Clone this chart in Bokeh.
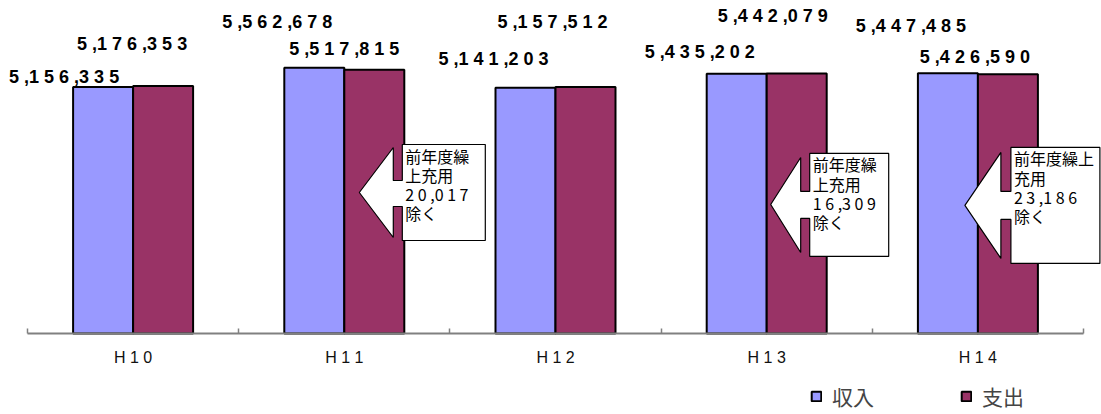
import numpy as np
from bokeh.plotting import figure
from bokeh.models import Range1d, FixedTicker, Legend, LegendItem, ColumnDataSource
from bokeh.core.properties import value
from bokeh.embed import file_html
from bokeh.resources import INLINE

# ---------------- data ----------------
categories = ["H10", "H11", "H12", "H13", "H14"]
income = [5156335, 5562678, 5141203, 5435202, 5447485]
expenditure = [5176353, 5517815, 5157512, 5442079, 5426590]
series_names = ["収入", "支出"]
callout_categories = ["H11", "H13", "H14"]
callout_amounts = [20017, 16309, 23186]
callout_prefix = "前年度繰上充用"
callout_suffix = "除く"

# ---------------- styles / layout ----------------
C_INC = "#9999FF"
C_EXP = "#993366"
W, H = 1101, 414
PX = 211.2                      # px per category
X0 = -27 / PX                   # x range start
PY = 325 / 6.8e6                # px per unit value
Y0 = -(H - 333) / PY
Y1 = 333 / PY
BAR_W = 60 / PX

# label offsets (px) relative to bar top-centre: (dx, up)
inc_lab_off = [(-39, 10), (-37, 46), (-32, 29), (-37, 22), (-37, 47)]
exp_lab_off = [(-31, 42), (-30, 21), (-33, 65), (-24, 57), (-33, 17)]

# callout geometry in px relative to the arrow tip
callout_geo = [
    dict(dx=15, tipv=2.95e6, back=34, ht=45, hb=45, st=12, sb=14, bl=43, br=126, bt=48, bb=48, wrap=4),
    dict(dx=4, tipv=2.70e6, back=30, ht=47, hb=48, st=13, sb=14, bl=39, br=118, bt=51, bb=52, wrap=4),
    dict(dx=-13, tipv=2.68e6, back=36, ht=53, hb=53, st=14, sb=14, bl=46, br=135, bt=58, bb=58, wrap=5),
]


def spaced(n):
    groups = f"{n:,}".split(",")
    return " ,".join(" ".join(g) for g in groups)


p = figure(width=W, height=H, output_backend="svg", toolbar_location=None,
           x_range=Range1d(X0, X0 + W / PX), y_range=Range1d(Y0, Y1),
           min_border_left=0, min_border_right=0, min_border_top=0, min_border_bottom=0)
p.outline_line_color = None
p.grid.visible = False
p.yaxis.visible = False
p.background_fill_color = "white"

n = len(categories)
xc = np.arange(n) + 0.5
src = ColumnDataSource(dict(xi=xc - BAR_W / 2, xe=xc + BAR_W / 2, inc=income, exp=expenditure))
r_inc = p.vbar(x="xi", top="inc", width=BAR_W, source=src, fill_color=C_INC,
               line_color="black", line_width=2)
r_exp = p.vbar(x="xe", top="exp", width=BAR_W, source=src, fill_color=C_EXP,
               line_color="black", line_width=2)

# baseline (category axis line)
p.segment(x0=[0], x1=[n], y0=[0], y1=[0], line_color="#808080", line_width=2)

# value labels
lx, ly, lt = [], [], []
for vals, off, sgn in ((income, inc_lab_off, -1), (expenditure, exp_lab_off, 1)):
    for i, v in enumerate(vals):
        bx = xc[i] + sgn * BAR_W / 2
        lx.append(bx + off[i][0] / PX)
        ly.append(v + off[i][1] / PY)
        lt.append(spaced(v))
p.text(x=lx, y=ly, text=lt, text_align="center", text_baseline="middle",
       text_font=value("Liberation Sans"), text_font_style="bold", text_font_size="18px",
       text_color="black")

# callouts
xs, ys, tx, ty, tt = [], [], [], [], []
for cat, amt, g in zip(callout_categories, callout_amounts, callout_geo):
    i = categories.index(cat)
    tipx = xc[i] + g["dx"] / PX
    tipy = g["tipv"]
    def X(d):
        return tipx + d / PX
    def Y(d):  # d positive = down
        return tipy - d / PY
    pts = [(0, 0), (g["back"], -g["ht"]), (g["back"], -g["st"]), (g["bl"], -g["st"]),
           (g["bl"], -g["bt"]), (g["br"], -g["bt"]), (g["br"], g["bb"]), (g["bl"], g["bb"]),
           (g["bl"], g["sb"]), (g["back"], g["sb"]), (g["back"], g["hb"])]
    xs.append([X(a) for a, b in pts])
    ys.append([Y(b) for a, b in pts])
    w = g["wrap"]
    lines = [callout_prefix[k:k + w] for k in range(0, len(callout_prefix), w)]
    lines += [spaced(amt), callout_suffix]
    tx.append(X(g["bl"] + 3))
    ty.append(Y(-g["bt"] - 1))
    tt.append("\n".join(lines))
p.patches(xs=xs, ys=ys, fill_color="white", line_color="black", line_width=1.2)
p.text(x=tx, y=ty, text=tt, text_align="left", text_baseline="top",
       text_font=value("Noto Sans CJK JP"), text_font_size="16px", text_color="black",
       text_line_height=0.8)

# x axis (drawn at value 0 inside the frame)
ax = p.xaxis[0]
ax.fixed_location = 0
ax.ticker = FixedTicker(ticks=list(xc), minor_ticks=list(range(n + 1)))
ax.major_label_overrides = {float(x): " ".join(c) for x, c in zip(xc, categories)}
ax.axis_line_color = None
ax.major_tick_line_color = None
ax.minor_tick_line_color = "#808080"
ax.minor_tick_line_width = 1.5
ax.minor_tick_in = 5
ax.minor_tick_out = 0
ax.major_label_standoff = 9
ax.major_label_text_font = "Liberation Sans"
ax.major_label_text_font_size = "16px"
ax.major_label_text_color = "#111111"

legend = Legend(items=[LegendItem(label=series_names[0], renderers=[r_inc]),
                       LegendItem(label=series_names[1], renderers=[r_exp])],
                orientation="horizontal", location=(810, 3),
                glyph_width=12, glyph_height=12, label_standoff=10, spacing=86,
                label_text_font="Noto Sans CJK JP", label_text_font_size="21px",
                border_line_color=None, background_fill_alpha=0, padding=2, margin=0)
p.add_layout(legend)

open("out.html", "w").write(file_html(p, INLINE))
